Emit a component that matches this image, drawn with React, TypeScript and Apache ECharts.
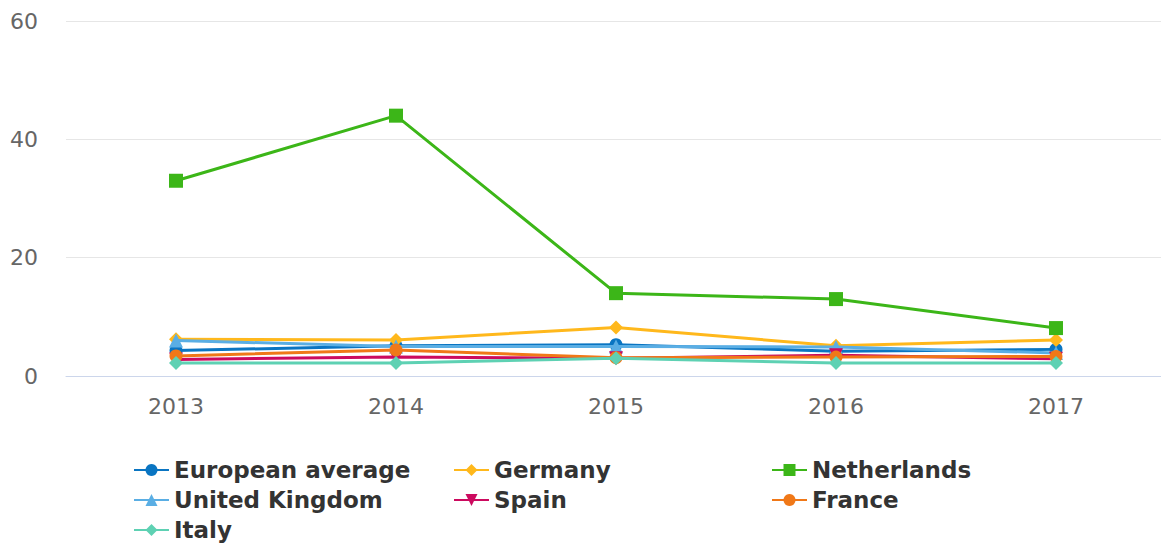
import React, { useEffect, useRef } from "react";
import * as echarts from "echarts";

const years = ["2013", "2014", "2015", "2016", "2017"];
const yTicks = [0, 20, 40, 60];

const europeanAverage = [4.3, 5.1, 5.3, 4.2, 4.5];
const germany = [6.2, 6.1, 8.2, 5.1, 6.1];
const netherlands = [33, 44, 14, 13, 8.1];
const unitedKingdom = [6.0, 5.0, 5.0, 4.9, 3.9];
const spain = [2.8, 3.2, 3.0, 3.5, 2.9];
const france = [3.4, 4.4, 3.1, 3.2, 3.3];
const italy = [2.2, 2.2, 3.0, 2.2, 2.2];

const seriesDefs = [
  { name: "European average", data: europeanAverage, color: "#0a75c2", symbol: "circle", size: 13, rotate: 0 },
  { name: "Germany", data: germany, color: "#ffb81c", symbol: "diamond", size: 14, rotate: 0 },
  { name: "Netherlands", data: netherlands, color: "#3cb618", symbol: "rect", size: 14, rotate: 0 },
  { name: "United Kingdom", data: unitedKingdom, color: "#5aaee4", symbol: "triangle", size: 14, rotate: 0 },
  { name: "Spain", data: spain, color: "#cc0a5f", symbol: "triangle", size: 14, rotate: 180 },
  { name: "France", data: france, color: "#f07818", symbol: "circle", size: 13, rotate: 0 },
  { name: "Italy", data: italy, color: "#5ed1b3", symbol: "diamond", size: 14, rotate: 0 },
];

const legendCols = [
  { left: 133, names: ["European average", "United Kingdom", "Italy"] },
  { left: 453, names: ["Germany", "Spain"] },
  { left: 771, names: ["Netherlands", "France"] },
];

export default function App() {
  const ref = useRef<HTMLDivElement>(null);
  useEffect(() => {
    if (!ref.current) return;
    const chart = echarts.init(ref.current, undefined, { renderer: "svg" });
    const font = "DejaVu Sans";
    chart.setOption({
      animation: false,
      backgroundColor: "#ffffff",
      grid: { left: 66, right: 0, top: 21, bottom: 169, containLabel: false },
      xAxis: {
        type: "category",
        data: years,
        boundaryGap: true,
        axisLine: { lineStyle: { color: "#ccd6eb", width: 1 } },
        axisTick: { show: false },
        axisLabel: { color: "#666666", fontSize: 22, fontFamily: font, margin: 19 },
      },
      yAxis: {
        type: "value",
        min: yTicks[0],
        max: yTicks[yTicks.length - 1],
        interval: 20,
        axisLine: { show: false },
        axisTick: { show: false },
        splitLine: { lineStyle: { color: "#e6e6e6", width: 1 } },
        axisLabel: { color: "#666666", fontSize: 22, fontFamily: font, margin: 28 },
      },
      legend: legendCols.map((c) => ({
        orient: "vertical",
        left: c.left,
        top: 458,
        data: c.names,
        itemWidth: 35,
        itemHeight: 15,
        itemGap: 6,
        padding: 0,
        textStyle: { color: "#333333", fontSize: 23, fontWeight: "bold", fontFamily: font, lineHeight: 24 },
      })),
      series: seriesDefs.map((s, i) => ({
        name: s.name,
        type: "line",
        data: s.data,
        symbol: s.symbol,
        symbolSize: s.size,
        symbolRotate: s.rotate,
        z: 2 + i,
        lineStyle: { color: s.color, width: 3 },
        itemStyle: { color: s.color },
        emphasis: { disabled: true },
      })),
    });
    return () => chart.dispose();
  }, []);
  return (
    <div style={{ position: "absolute", left: 0, top: 0, width: 1161, height: 545, overflow: "hidden" }}>
      <div ref={ref} style={{ width: 1166, height: 545 }} />
    </div>
  );
}
